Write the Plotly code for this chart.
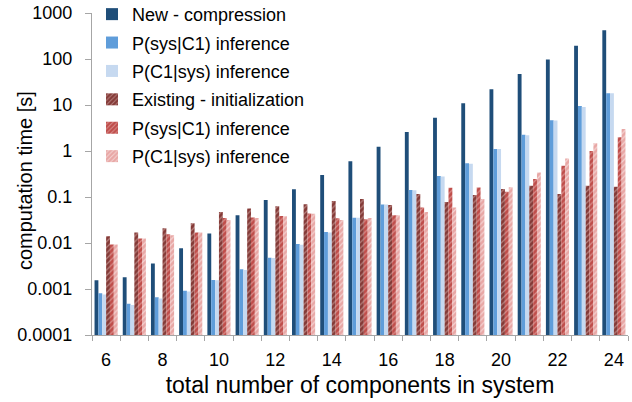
import plotly.graph_objects as go

components = list(range(6, 25))

new_compression = [0.00155, 0.0018, 0.0036, 0.0077, 0.016, 0.040, 0.086, 0.147, 0.30, 0.60,
                   1.24, 2.6, 5.3, 10.9, 22, 47, 97, 195, 420]
new_sys_given_c1 = [0.00081, 0.00048, 0.00066, 0.00092, 0.00157, 0.0027, 0.0048, 0.0095, 0.0174, 0.0355,
                    0.069, 0.142, 0.286, 0.54, 1.1, 2.26, 4.65, 9.5, 17.9]
new_c1_given_sys = [0.00076, 0.00045, 0.00062, 0.00088, 0.00155, 0.0026, 0.0047, 0.0092, 0.017, 0.0355,
                    0.069, 0.14, 0.28, 0.53, 1.1, 2.2, 4.6, 9.0, 18]
existing_init = [0.014, 0.017, 0.021, 0.027, 0.047, 0.056, 0.063, 0.070, 0.082, 0.090,
                 0.067, 0.116, 0.078, 0.11, 0.149, 0.176, 0.116, 0.176, 0.167]
existing_sys_given_c1 = [0.0093, 0.0126, 0.0155, 0.017, 0.035, 0.036, 0.0386, 0.044, 0.0345, 0.033,
                         0.040, 0.059, 0.159, 0.16, 0.13, 0.246, 0.48, 1.0, 2.0]
existing_c1_given_sys = [0.0093, 0.0125, 0.0147, 0.017, 0.0316, 0.035, 0.038, 0.043, 0.0316, 0.035,
                         0.040, 0.047, 0.059, 0.09, 0.163, 0.34, 0.69, 1.47, 3.0]

y_tick_vals = [0.0001, 0.001, 0.01, 0.1, 1, 10, 100, 1000]
y_tick_text = ["0.0001", "0.001", "0.01", "0.1", "1", "10", "100", "1000"]
x_tick_vals = list(range(6, 25, 2))

series = [
    ("New - compression", new_compression, "#1F4E79", None),
    ("P(sys|C1) inference", new_sys_given_c1, "#5F9DDA", None),
    ("P(C1|sys) inference", new_c1_given_sys, "#C6D9F0", None),
    ("Existing - initialization", existing_init, "#843A37", "#E8C8C6"),
    ("P(sys|C1) inference", existing_sys_given_c1, "#BF4D4A", "#F2D2D0"),
    ("P(C1|sys) inference", existing_c1_given_sys, "#E8A7A5", "#FFFFFF"),
]

fig = go.Figure()
for i, (name, vals, color, hatch) in enumerate(series):
    marker = dict(color=color, line=dict(width=0))
    if hatch:
        marker["pattern"] = dict(shape="/", fgcolor=hatch, bgcolor=color,
                                 size=4, solidity=0.3, fillmode="overlay")
    fig.add_trace(go.Bar(x=components, y=vals, name=name, marker=marker,
                         legendgroup=f"g{i}"))

axis_gray = "#A6A6A6"
fig.update_layout(
    width=632, height=402,
    margin=dict(l=92, r=4, t=13, b=67, autoexpand=False),
    paper_bgcolor="white", plot_bgcolor="white",
    barmode="group", bargap=0.18, bargroupgap=0,
    font=dict(family="Liberation Sans, Arial, sans-serif", size=18, color="#000000"),
    legend=dict(x=0.0, y=1.053, xanchor="left", yanchor="top",
                bgcolor="rgba(0,0,0,0)", font=dict(size=18),
                tracegroupgap=2, itemwidth=30),
    showlegend=True,
    annotations=[dict(text="computation time [s]", textangle=-90,
                      xref="paper", yref="paper", x=-0.125, y=0.478,
                      xanchor="center", yanchor="middle", showarrow=False,
                      font=dict(size=20))],
)
fig.update_xaxes(
    range=[5.5, 24.5], automargin=False,
    tickmode="array", tickvals=x_tick_vals, ticks="", ticklabelstandoff=8,
    tickfont=dict(size=18),
    showline=True, linecolor=axis_gray, linewidth=1.3,
    showgrid=False, zeroline=False,
    minor=dict(tickmode="array", tickvals=[v + 0.5 for v in range(5, 25)],
               ticks="outside", ticklen=5, tickcolor=axis_gray, tickwidth=1.3, showgrid=False),
    title=dict(text="total number of components in system", font=dict(size=23), standoff=8),
)
fig.update_yaxes(
    type="log", range=[-4, 3], automargin=False,
    tickmode="array", tickvals=y_tick_vals, ticktext=y_tick_text,
    ticks="outside", ticklen=6, tickcolor=axis_gray, tickwidth=1.3, ticklabelstandoff=9,
    tickfont=dict(size=18),
    showline=True, linecolor=axis_gray, linewidth=1.3,
    showgrid=False, zeroline=False,
)

fig.write_html("out.html")
